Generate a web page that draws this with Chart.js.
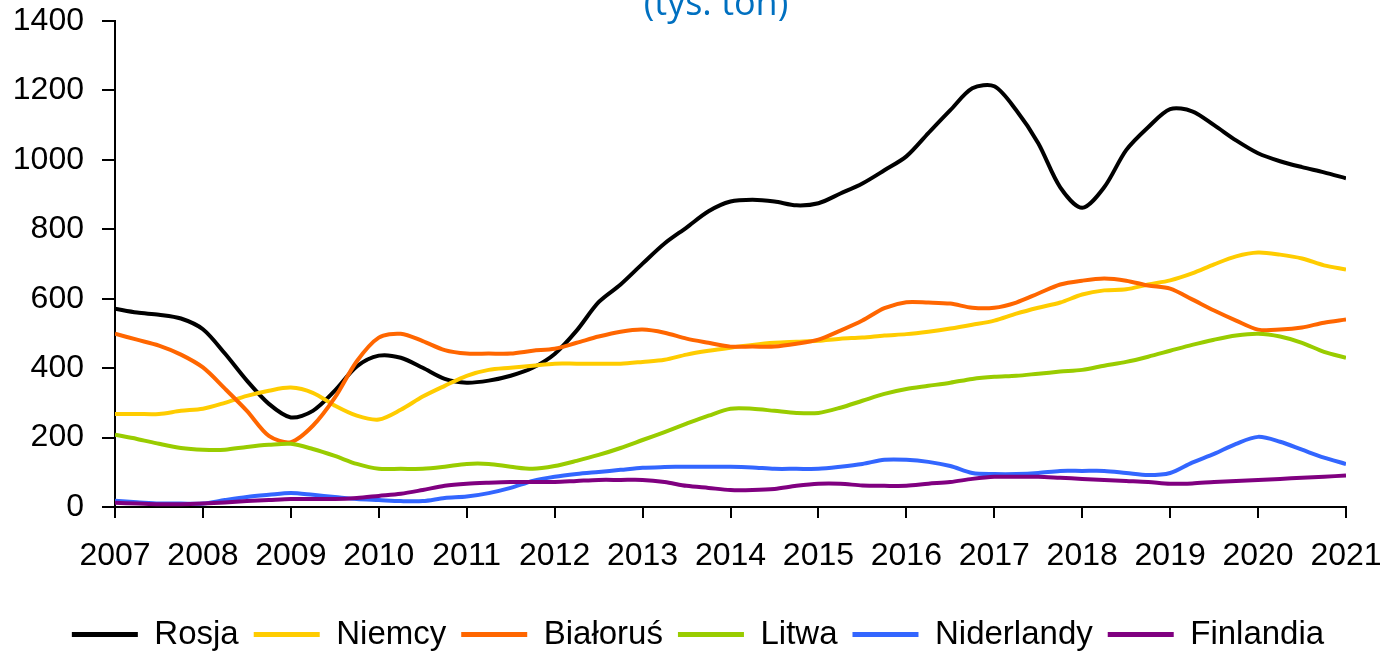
<!DOCTYPE html>
<html>
<head>
<meta charset="utf-8">
<script src="https://cdn.jsdelivr.net/npm/chart.js@4/dist/chart.umd.min.js"></script>
<style>
  html, body { margin: 0; padding: 0; background: #fff; }
  #wrap { position: relative; width: 1387px; height: 651px; }
</style>
</head>
<body>
<div id="wrap"><canvas id="importChart" width="1387" height="651"></canvas></div>
<script>
"use strict";
// quarterly readings, 2007 Q1 .. 2021 Q1 (tys. ton)
const years = [2007, 2008, 2009, 2010, 2011, 2012, 2013, 2014, 2015, 2016, 2017, 2018, 2019, 2020, 2021];
const yTicks = [0, 200, 400, 600, 800, 1000, 1200, 1400];
const seriesNames = ["Rosja", "Niemcy", "Białoruś", "Litwa", "Niderlandy", "Finlandia"];
const seriesColors = ["#000000", "#FFCC00", "#FF6600", "#99CC00", "#3366FF", "#800080"];

const rosja = [571, 560, 554, 543, 512, 442, 364, 297, 258, 277, 335, 405, 436, 430, 401, 369,
    358, 364, 378, 401, 441, 508, 590, 641, 701, 759, 805, 852, 880, 885, 880, 869,
    875, 903, 932, 970, 1010, 1077, 1143, 1206, 1212, 1143, 1048, 921, 862, 921, 1028, 1094,
    1146, 1140, 1100, 1056, 1019, 996, 979, 964, 947];
const niemcy = [268, 268, 268, 277, 283, 300, 320, 335, 344, 329, 292, 263, 252, 280, 318, 349,
    378, 395, 401, 407, 413, 413, 413, 413, 418, 424, 439, 450, 459, 467, 473, 476,
    479, 485, 488, 494, 498, 505, 514, 525, 537, 557, 574, 589, 612, 624, 627, 641,
    653, 673, 699, 722, 733, 727, 716, 696, 684];
const bialorus = [499, 482, 465, 439, 402, 341, 277, 205, 187, 234, 315, 420, 488, 499, 478, 452,
    442, 442, 442, 450, 456, 473, 491, 505, 511, 502, 485, 473, 462, 462, 462, 470,
    482, 508, 537, 573, 590, 589, 586, 574, 574, 589, 615, 641, 652, 658, 652, 638,
    629, 598, 566, 537, 511, 511, 517, 531, 540];
const litwa = [208, 196, 182, 170, 165, 165, 173, 179, 182, 167, 147, 124, 110, 110, 110, 116,
    124, 124, 116, 110, 118, 133, 150, 170, 193, 216, 240, 263, 283, 283, 277, 271,
    271, 286, 306, 326, 340, 349, 358, 369, 375, 378, 384, 390, 395, 407, 418, 433,
    450, 467, 482, 494, 499, 491, 473, 447, 430];
const niderlandy = [18, 14, 10, 10, 10, 20, 29, 35, 40, 35, 29, 23, 20, 17, 17, 26,
    30, 40, 55, 75, 87, 95, 101, 107, 113, 115, 116, 116, 116, 114, 110, 110,
    110, 116, 124, 136, 136, 130, 118, 98, 95, 95, 98, 104, 104, 104, 98, 92,
    98, 128, 153, 182, 202, 188, 165, 142, 124];
const finlandia = [12, 10, 8, 8, 10, 13, 17, 20, 23, 23, 23, 26, 32, 38, 49, 61,
    67, 70, 72, 72, 72, 75, 78, 78, 78, 72, 61, 55, 49, 49, 52, 61,
    67, 67, 62, 61, 61, 67, 72, 81, 87, 87, 87, 84, 81, 78, 75, 72,
    67, 68, 72, 75, 78, 81, 84, 87, 91];

const seriesValues = [rosja, niemcy, bialorus, litwa, niderlandy, finlandia];
const FONT = "'Liberation Sans', Arial, sans-serif";

// each point sits on a quarter of the year
function toPoints(values) {
    return values.map((v, i) => ({ x: years[0] + i / 4, y: v }));
}

const datasets = seriesNames.map((name, i) => ({
    label: name,
    data: toPoints(seriesValues[i]),
    borderColor: seriesColors[i],
    backgroundColor: seriesColors[i],
    borderWidth: 4,
    pointRadius: 0,
    tension: 0.3,
    order: seriesNames.length - i // later series on top, like the original
}));

// partially cut-off subtitle at the top of the picture
const subtitlePlugin = {
    id: "subtitle",
    afterLayout(chart) {
        // legend in the original is centred on the whole picture, not the padded box
        chart.legend.left = 9;
        chart.legend.right = 1387;
    },
    afterDraw(chart) {
        const ctx = chart.ctx;
        ctx.save();
        ctx.font = "36px 'Open Sans', sans-serif";
        ctx.fillStyle = "#0070C0";
        ctx.textAlign = "center";
        ctx.textBaseline = "alphabetic";
        ctx.fillText("(tys. ton)", 716, 15);
        ctx.restore();
    }
};

const Chart = window.Chart;
new Chart(document.getElementById("importChart"), {
    type: "line",
    data: { datasets },
    plugins: [subtitlePlugin],
    options: {
        responsive: false,
        animation: false,
        layout: { padding: { top: 21, right: 41, left: 0, bottom: -10 } },
        plugins: {
            tooltip: { enabled: false },
            legend: {
                position: "bottom",
                labels: {
                    color: "#000",
                    font: { family: FONT, size: 33 },
                    boxWidth: 66,
                    boxHeight: 5,
                    padding: 15,
                    sort: (a, b) => a.datasetIndex - b.datasetIndex,
                    generateLabels(chart) {
                        return chart.data.datasets.map((ds, i) => ({
                            text: ds.label,
                            fillStyle: ds.borderColor,
                            strokeStyle: ds.borderColor,
                            lineWidth: 0,
                            fontColor: "#000",
                            datasetIndex: i
                        }));
                    }
                }
            }
        },
        scales: {
            x: {
                type: "linear",
                min: years[0],
                max: years[years.length - 1],
                afterBuildTicks: (scale) => { scale.ticks = years.map(v => ({ value: v })); },
                afterFit: (scale) => {
                    scale.height = 96;
                    scale.paddingLeft = 0;
                    scale.paddingRight = 0;
                },
                ticks: {
                    color: "#000",
                    font: { family: FONT, size: 32 },
                    padding: 19,
                    maxRotation: 0,
                    autoSkip: false,
                    callback: (v) => String(v)
                },
                grid: { drawOnChartArea: false, drawTicks: true, tickLength: 11, color: "#000", lineWidth: 2 },
                border: { color: "#000", width: 2 }
            },
            y: {
                min: 0,
                max: 1400,
                afterBuildTicks: (scale) => { scale.ticks = yTicks.map(v => ({ value: v })); },
                afterFit: (scale) => {
                    scale.width = 115;
                    scale.paddingTop = 0;
                    scale.paddingBottom = 0;
                },
                ticks: {
                    color: "#000",
                    font: { family: FONT, size: 32 },
                    padding: 18,
                    callback: (v) => String(v)
                },
                grid: { drawOnChartArea: false, drawTicks: true, tickLength: 13, color: "#000", lineWidth: 2 },
                border: { color: "#000", width: 2 }
            }
        }
    }
});
</script>
</body>
</html>
